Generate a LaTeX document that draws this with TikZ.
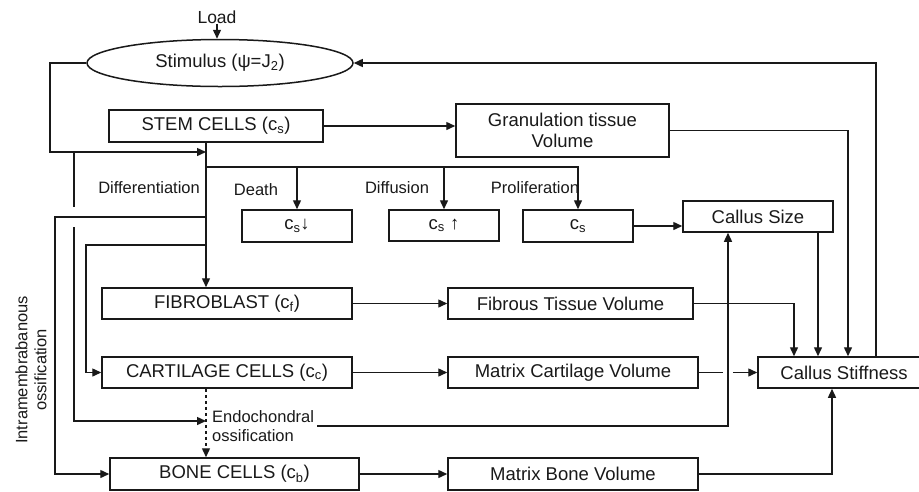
\documentclass[tikz,border=0pt]{standalone}
\usepackage{fontspec}
\setmainfont{Liberation Sans}
\usepackage{tikz}
\usetikzlibrary{
  shapes.geometric,
  arrows.meta,
  positioning
}
\definecolor{InkGray}{RGB}{25, 25, 25}
\tikzset{
  cellbox/.style={rectangle, draw=InkGray, line width=1.5pt, inner sep=0pt, text=InkGray, font=\fontsize{18.5}{21}\selectfont},
  steplabel/.style={inner sep=0pt, text=InkGray, font=\fontsize{16.5}{19}\selectfont},
  flow/.style={draw=InkGray, line width=1.4pt, -{Triangle[length=9pt,width=8pt]}},
  link/.style={draw=InkGray, line width=1.4pt}
}

\begin{document}
\begin{tikzpicture}[x=1pt, y=-1pt]
\useasboundingbox (0,0) rectangle (919,491);

\node[steplabel, font=\fontsize{17.5}{20}\selectfont] (load) at (217,17) {Load};
\node[ellipse, draw=InkGray, line width=1.5pt, inner sep=0pt, minimum width=266pt, minimum height=47pt, text=InkGray, font=\fontsize{18.5}{21}\selectfont] (stim) at (220,63) {Stimulus (ψ=J\textsubscript{2})};

\node[cellbox, minimum width=214pt, minimum height=32pt] (stem) at (216,126) {STEM CELLS (c\textsubscript{s})};
\node[cellbox, minimum width=213pt, minimum height=53pt, align=center] (gran) at (562.5,130.5) {Granulation tissue\\Volume};

\node[cellbox, minimum width=110pt, minimum height=32pt] (death) at (297,226) {c\textsubscript{s}↓};
\node[cellbox, minimum width=110pt, minimum height=31pt] (diff) at (444,225.5) {c\textsubscript{s} ↑};
\node[cellbox, minimum width=110pt, minimum height=32pt] (prolif) at (578,226) {c\textsubscript{s}};
\node[cellbox, minimum width=150pt, minimum height=31pt] (size) at (758,216.5) {Callus Size};

\node[cellbox, minimum width=250pt, minimum height=31pt] (fib) at (227,303.5) {FIBROBLAST (c\textsubscript{f})};
\node[cellbox, minimum width=245pt, minimum height=31pt] (fibv) at (570.5,303.5) {Fibrous Tissue Volume};
\node[cellbox, minimum width=250pt, minimum height=31pt] (cart) at (227,372.5) {CARTILAGE CELLS (c\textsubscript{c})};
\node[cellbox, minimum width=250pt, minimum height=31pt] (cartv) at (573,372.5) {Matrix Cartilage Volume};
\node[cellbox, minimum width=172pt, minimum height=31pt] (stiff) at (844,372.5) {Callus Stiffness};
\node[cellbox, minimum width=249pt, minimum height=32pt] (bone) at (234.5,474) {BONE CELLS (c\textsubscript{b})};
\node[cellbox, minimum width=250pt, minimum height=32pt] (bonev) at (573,474) {Matrix Bone Volume};

\node[steplabel, anchor=east] (difflabel) at (200,188) {Differentiation};
\node[steplabel] (deathlabel) at (256,190) {Death};
\node[steplabel] (diffulabel) at (397,188) {Diffusion};
\node[steplabel] (proliflabel) at (535,188) {Proliferation};
\node[steplabel, anchor=west, align=left] (endo) at (212,426) {Endochondral\\ossification};
\node[steplabel, rotate=90, align=center] (intra) at (31,370) {Intramembrabanous\\ossification};

\coordinate (xd) at (206,0);
\coordinate (xs) at (74,0);
\coordinate (fb) at (50,152);
\coordinate (br) at (206,167);
\coordinate (im) at (55,217);
\coordinate (cb) at (86,245);
\coordinate (en) at (206,421);
\coordinate (xe) at (728,0);
\coordinate (xf) at (794,0);
\coordinate (xz) at (818,0);
\coordinate (xb) at (832,0);
\coordinate (xg) at (848,0);
\coordinate (xt) at (876,0);

\draw[flow] (load.south) -- (load.south |- stim.north);
\draw[flow] (stim.west) -| (fb) -- (fb -| xd);
\draw[flow] (stem.east) -- (stem.east -| gran.west);

\draw[flow] (br) -| (prolif.north);
\draw[flow] (br -| death.north) -- (death.north);
\draw[flow] (br -| diff.north) -- (diff.north);
\draw[flow] (prolif.east) -- (prolif.east -| size.west);

\draw[flow] (stem.south -| xd) -- (fib.north -| xd);
\draw[flow] (im -| xd) -- (im) |- (bone.west);
\draw[flow] (cb -| xd) -- (cb) |- (cart.west);
\draw[flow] (fb -| xs) -- ++(0,55) ++(0,20) |- (en);
\draw[flow, dashed] (cart.south -| xd) -- (bone.north -| xd);

\draw[flow] (fib.east) -- (fibv.west);
\draw[flow] (cart.east) -- (cartv.west);
\draw[flow] (bone.east) -- (bone.east -| bonev.west);

\draw[flow] (fibv.east) -| (stiff.north -| xf);
\draw[flow] (cartv.east) -- ++(24,0) ++(10,0) -- (stiff.west);
\draw[flow] (bonev.east) -| (stiff.south -| xb);
\draw[flow] (size.south -| xz) -- (stiff.north -| xz);
\draw[flow] (gran.east) -| (stiff.north -| xg);
\draw[flow] (stiff.north -| xt) |- (stim.east);
\draw[flow] ([xshift=3pt]endo.east) -| (size.south -| xe);
\end{tikzpicture}
\end{document}
